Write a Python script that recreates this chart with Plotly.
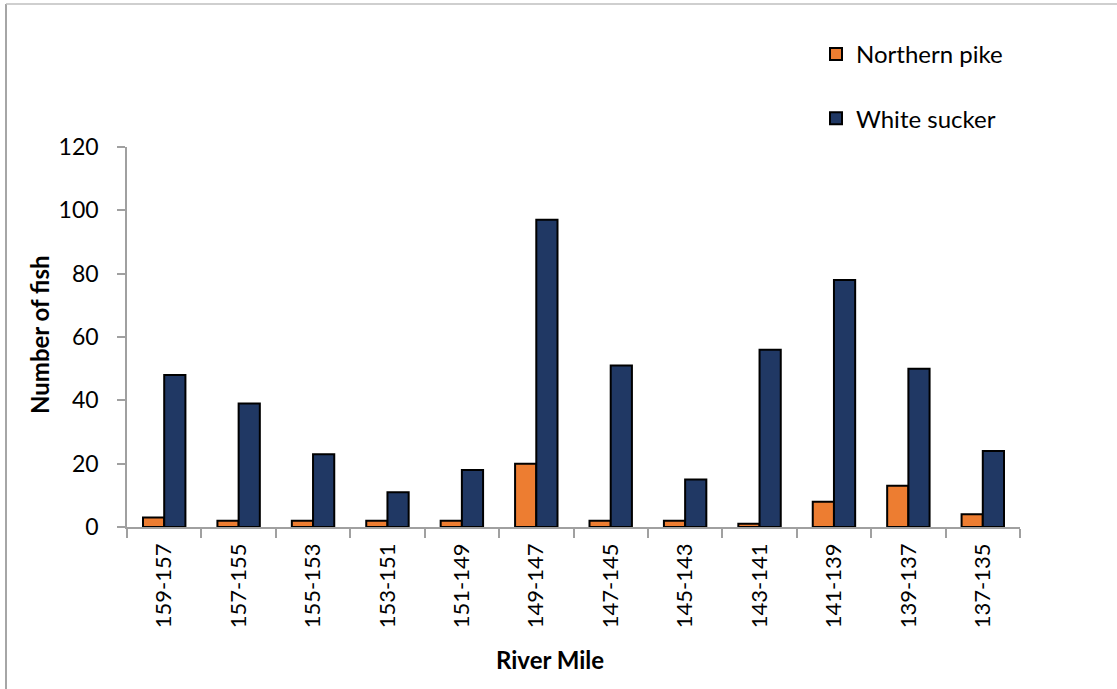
import plotly.graph_objects as go

categories = ["159-157", "157-155", "155-153", "153-151", "151-149", "149-147",
              "147-145", "145-143", "143-141", "141-139", "139-137", "137-135"]
northern_pike = [3, 2, 2, 2, 2, 20, 2, 2, 1, 8, 13, 4]
white_sucker = [48, 39, 23, 11, 18, 97, 51, 15, 56, 78, 50, 24]
y_ticks = [0, 20, 40, 60, 80, 100, 120]

FONT = "Lato"
W, H = 1117, 689
L, R, T, B = 127, 1020, 147, 527

fig = go.Figure()
fig.add_trace(go.Bar(x=categories, y=northern_pike, name="Northern pike",
                     marker=dict(color="#ED7D31", line=dict(color="black", width=2)),
                     legendgroup="a"))
fig.add_trace(go.Bar(x=categories, y=white_sucker, name="White sucker",
                     marker=dict(color="#203864", line=dict(color="black", width=2)),
                     legendgroup="b"))

def px_x(p):
    return (p - L) / (R - L)

def px_y(p):
    return (B - p) / (B - T)

fig.update_layout(
    width=W, height=H,
    margin=dict(l=L, r=W - R, t=T, b=H - B, pad=0),
    paper_bgcolor="white", plot_bgcolor="white",
    barmode="group", bargap=0.43, bargroupgap=0,
    font=dict(family=FONT, size=22, color="black"),
    showlegend=True,
    legend=dict(x=px_x(816), y=px_y(32), xanchor="left", yanchor="top",
                font=dict(family=FONT, size=24, color="black"),
                tracegroupgap=30, bgcolor="rgba(0,0,0,0)"),
    xaxis=dict(type="category", showline=True, linecolor="#A0A0A0", linewidth=1.5,
               ticks="outside", tickson="boundaries", ticklen=9, tickcolor="#A0A0A0",
               tickwidth=1.5, tickangle=-90, showgrid=False,
               tickfont=dict(family=FONT, size=22), ticklabelstandoff=6),
    yaxis=dict(range=[0, 120], tickvals=y_ticks, showline=True, linecolor="#A0A0A0",
               linewidth=1.5, ticks="outside", ticklen=8, tickcolor="#A0A0A0", tickwidth=1.5,
               showgrid=False, zeroline=False, tickfont=dict(family=FONT, size=23),
               ticklabelstandoff=14),
    annotations=[
        dict(text="<b>Number of fish</b>", xref="paper", yref="paper",
             x=px_x(39), y=px_y(335), xanchor="center", yanchor="middle",
             textangle=-90, showarrow=False, font=dict(family=FONT, size=24, color="black")),
        dict(text="<b>River Mile</b>", xref="paper", yref="paper",
             x=px_x(550), y=px_y(659), xanchor="center", yanchor="middle",
             showarrow=False, font=dict(family=FONT, size=24, color="black")),
    ],
    shapes=[
        dict(type="line", xref="paper", yref="paper", x0=px_x(6), x1=px_x(6),
             y0=px_y(4), y1=px_y(700), line=dict(color="#A6A6A6", width=2)),
        dict(type="line", xref="paper", yref="paper", x0=px_x(6), x1=px_x(1130),
             y0=px_y(4), y1=px_y(4), line=dict(color="#BFBFBF", width=1.5)),
    ],
)

fig.write_html("out.html")
